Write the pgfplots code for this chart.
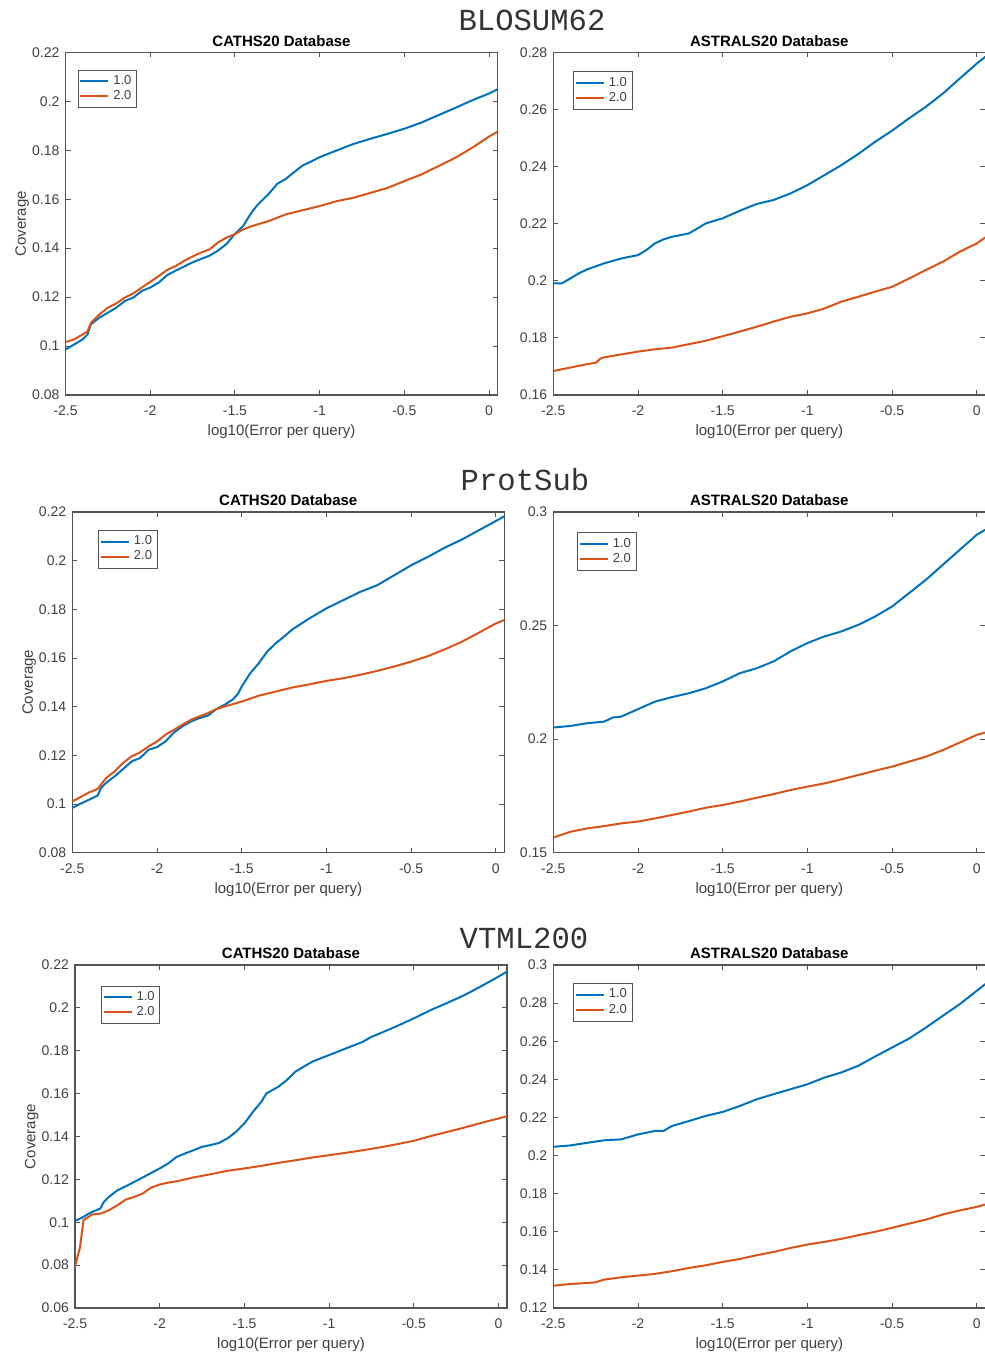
\documentclass[border=0pt]{standalone}
\usepackage{fontspec}
\setmainfont{Liberation Sans}
\newfontfamily\monofont{Liberation Mono}
\usepackage{pgfplots}
\pgfplotsset{compat=1.18}
\definecolor{mblue}{rgb}{0,0.447,0.741}
\definecolor{morange}{rgb}{0.85,0.325,0.098}
\definecolor{axgray}{rgb}{0.33,0.33,0.33}
\definecolor{txtgray}{rgb}{0.25,0.25,0.25}
\pgfplotsset{
  mat/.style={
    scale only axis, width=216pt, height=171pt, anchor=south west,
    xmin=-2.5, xmax=0.05,
    xtick={-2.5,-2,-1.5,-1,-0.5,0},
    scaled y ticks=false, scaled x ticks=false,
    axis line style={draw=axgray, line width=0.6pt},
    tick style={draw=axgray, line width=0.5pt},
    major tick length=2.5pt,
    tick align=inside,
    ticklabel style={font=\fontsize{7}{8}\selectfont, text=txtgray},
    xticklabel style={yshift=-2pt},
    yticklabel style={xshift=0.5pt},
    /pgf/number format/assume math mode=true,
    /pgf/number format/fixed, /pgf/number format/precision=2,
    label style={font=\fontsize{7.5}{9}\selectfont, text=txtgray},
    xlabel={log10(Error per query)},
    xlabel style={at={(axis description cs:0.5,-0.107)}, anchor=center},
    ylabel style={at={(axis description cs:-0.1,0.5)}, anchor=center},
    title style={at={(axis description cs:0.5,1)}, anchor=base, yshift=-3pt, font=\bfseries\fontsize{7.5}{9}\selectfont},
    legend style={draw=axgray, line width=0.5pt, font=\fontsize{6.5}{7}\selectfont, text=txtgray, anchor=north west, inner sep=0.6pt, row sep=-2.5pt},
    legend cell align=left,
    legend image code/.code={\draw[#1, line width=1pt] (0pt,0pt) -- (14pt,0pt);},
    every axis plot/.append style={line width=1pt, no markers},
  }
}
\begin{document}
\begin{tikzpicture}
\useasboundingbox (0,0) rectangle (492.5pt,677.5pt);
\node[font=\monofont\fontsize{15.3}{16}\selectfont, text=black!80] at (266pt,667.5pt) {BLOSUM62};
\node[font=\monofont\fontsize{15.3}{16}\selectfont, text=black!80] at (262.5pt,437.5pt) {ProtSub};
\node[font=\monofont\fontsize{15.3}{16}\selectfont, text=black!80] at (262pt,208.5pt) {VTML200};

% ---------- Row 1 left: BLOSUM62 CATHS20
\begin{axis}[mat, at={(32.75pt,480pt)}, height=171.3pt,
  ymin=0.08, ymax=0.22, ytick={0.08,0.1,0.12,0.14,0.16,0.18,0.2,0.22},
  title={CATHS20 Database}, ylabel={Coverage},
  legend style={at={(axis description cs:0.028,0.95)}}]
\addplot[mblue] coordinates {
(-2.5,0.0986)(-2.45,0.1006)(-2.4,0.1027)(-2.37,0.1047)(-2.35,0.1089)(-2.3,0.1116)(-2.25,0.1136)(-2.2,0.1157)(-2.15,0.1184)(-2.1,0.1198)(-2.05,0.1225)(-2.0,0.1239)(-1.95,0.1259)(-1.9,0.129)(-1.85,0.1308)(-1.8,0.1325)(-1.75,0.1342)(-1.7,0.1356)(-1.65,0.1369)(-1.6,0.139)(-1.55,0.1417)(-1.5,0.1458)(-1.45,0.1492)(-1.42,0.1526)(-1.4,0.1547)(-1.37,0.1574)(-1.35,0.1588)(-1.3,0.1622)(-1.25,0.1663)(-1.2,0.1683)(-1.15,0.1711)(-1.1,0.1738)(-1.05,0.1754)(-1.0,0.1772)(-0.9,0.1799)(-0.8,0.1826)(-0.7,0.1847)(-0.6,0.1867)(-0.5,0.1888)(-0.4,0.1913)(-0.3,0.1943)(-0.2,0.1973)(-0.1,0.2004)(0,0.2032)(0.05,0.2049)};
\addlegendentry{1.0}
\addplot[morange] coordinates {
(-2.5,0.1016)(-2.45,0.1027)(-2.4,0.1047)(-2.37,0.106)(-2.35,0.1095)(-2.3,0.1129)(-2.25,0.1157)(-2.2,0.1174)(-2.15,0.1198)(-2.1,0.1215)(-2.05,0.1239)(-2.0,0.1262)(-1.95,0.1286)(-1.9,0.1311)(-1.85,0.1327)(-1.8,0.1348)(-1.75,0.1366)(-1.7,0.1382)(-1.65,0.1395)(-1.6,0.1423)(-1.55,0.1443)(-1.5,0.1457)(-1.45,0.1477)(-1.4,0.149)(-1.3,0.1511)(-1.2,0.1538)(-1.1,0.1555)(-1.0,0.1572)(-0.9,0.1592)(-0.8,0.1606)(-0.7,0.1626)(-0.6,0.1646)(-0.5,0.1674)(-0.4,0.1701)(-0.3,0.1735)(-0.2,0.1769)(-0.1,0.181)(0,0.1856)(0.05,0.1876)};
\addlegendentry{2.0}
\end{axis}

% ---------- Row 1 right: BLOSUM62 ASTRALS20
\begin{axis}[mat, at={(276.65pt,480pt)}, height=171.3pt,
  ymin=0.16, ymax=0.28, ytick={0.16,0.18,0.2,0.22,0.24,0.26,0.28},
  title={ASTRALS20 Database},
  legend style={at={(axis description cs:0.046,0.945)}}]
\addplot[mblue] coordinates {
(-2.5,0.1991)(-2.45,0.1991)(-2.4,0.2008)(-2.35,0.2026)(-2.3,0.204)(-2.2,0.2061)(-2.1,0.2078)(-2.0,0.209)(-1.95,0.2108)(-1.9,0.2131)(-1.85,0.2145)(-1.8,0.2154)(-1.75,0.216)(-1.7,0.2166)(-1.65,0.2183)(-1.6,0.2201)(-1.5,0.2219)(-1.4,0.2245)(-1.3,0.2269)(-1.2,0.2283)(-1.1,0.2306)(-1.0,0.2335)(-0.9,0.237)(-0.8,0.2405)(-0.7,0.2444)(-0.6,0.2487)(-0.5,0.2526)(-0.4,0.2569)(-0.3,0.261)(-0.2,0.2656)(-0.1,0.2709)(0,0.2761)(0.05,0.2785)};
\addlegendentry{1.0}
\addplot[morange] coordinates {
(-2.5,0.1684)(-2.4,0.1696)(-2.3,0.1708)(-2.25,0.1713)(-2.22,0.1728)(-2.2,0.1732)(-2.1,0.1742)(-2.0,0.1752)(-1.9,0.176)(-1.8,0.1766)(-1.7,0.1778)(-1.6,0.179)(-1.5,0.1806)(-1.4,0.1822)(-1.3,0.1839)(-1.2,0.1857)(-1.1,0.1874)(-1.0,0.1886)(-0.9,0.1903)(-0.8,0.1927)(-0.7,0.1944)(-0.6,0.1962)(-0.5,0.1979)(-0.4,0.2008)(-0.3,0.2038)(-0.2,0.2067)(-0.1,0.2102)(0,0.2131)(0.05,0.2152)};
\addlegendentry{2.0}
\end{axis}

% ---------- Row 2 left: ProtSub CATHS20
\begin{axis}[mat, at={(36.15pt,251.15pt)}, height=170.35pt,
  ymin=0.08, ymax=0.22, ytick={0.08,0.1,0.12,0.14,0.16,0.18,0.2,0.22},
  title={CATHS20 Database}, ylabel={Coverage},
  legend style={at={(axis description cs:0.06,0.947)}}]
\addplot[mblue] coordinates {
(-2.5,0.0984)(-2.45,0.1002)(-2.4,0.1018)(-2.35,0.1035)(-2.33,0.1066)(-2.3,0.1087)(-2.25,0.1114)(-2.2,0.1144)(-2.15,0.1175)(-2.1,0.1189)(-2.05,0.1223)(-2.0,0.1234)(-1.95,0.1257)(-1.9,0.1294)(-1.85,0.1319)(-1.8,0.1339)(-1.75,0.1353)(-1.7,0.1363)(-1.65,0.139)(-1.6,0.1408)(-1.55,0.1431)(-1.52,0.1455)(-1.5,0.1483)(-1.45,0.1537)(-1.4,0.1578)(-1.35,0.1626)(-1.3,0.166)(-1.25,0.1688)(-1.2,0.1718)(-1.1,0.1763)(-1.0,0.1804)(-0.9,0.1838)(-0.8,0.1872)(-0.7,0.1899)(-0.6,0.194)(-0.5,0.1981)(-0.4,0.2016)(-0.3,0.2054)(-0.2,0.2087)(-0.1,0.2125)(0,0.2163)(0.05,0.2182)};
\addlegendentry{1.0}
\addplot[morange] coordinates {
(-2.5,0.1011)(-2.45,0.1029)(-2.4,0.1048)(-2.35,0.1062)(-2.3,0.1107)(-2.25,0.1134)(-2.2,0.1169)(-2.15,0.1196)(-2.1,0.1212)(-2.05,0.1237)(-2.0,0.1257)(-1.95,0.1285)(-1.9,0.1305)(-1.85,0.1326)(-1.8,0.1346)(-1.75,0.136)(-1.7,0.1373)(-1.65,0.139)(-1.6,0.1401)(-1.5,0.1421)(-1.4,0.1445)(-1.3,0.1462)(-1.2,0.1479)(-1.1,0.1492)(-1.0,0.1506)(-0.9,0.1517)(-0.8,0.1531)(-0.7,0.1547)(-0.6,0.1565)(-0.5,0.1585)(-0.4,0.1608)(-0.3,0.1636)(-0.2,0.1667)(-0.1,0.1704)(0,0.1742)(0.05,0.1756)};
\addlegendentry{2.0}
\end{axis}

% ---------- Row 2 right: ProtSub ASTRALS20
\begin{axis}[mat, at={(276.65pt,251.15pt)}, height=170.35pt,
  ymin=0.15, ymax=0.3, ytick={0.15,0.2,0.25,0.3},
  title={ASTRALS20 Database},
  legend style={at={(axis description cs:0.055,0.94)}}]
\addplot[mblue] coordinates {
(-2.5,0.2051)(-2.4,0.2058)(-2.3,0.207)(-2.2,0.2077)(-2.15,0.2095)(-2.1,0.2099)(-2.0,0.2132)(-1.9,0.2165)(-1.8,0.2185)(-1.7,0.2202)(-1.6,0.2224)(-1.5,0.2254)(-1.4,0.229)(-1.3,0.2312)(-1.2,0.2342)(-1.1,0.2386)(-1.0,0.2423)(-0.9,0.2452)(-0.8,0.2474)(-0.7,0.2503)(-0.6,0.254)(-0.5,0.2584)(-0.4,0.2643)(-0.3,0.2702)(-0.2,0.2768)(-0.1,0.2834)(0,0.29)(0.05,0.2922)};
\addlegendentry{1.0}
\addplot[morange] coordinates {
(-2.5,0.1567)(-2.4,0.1592)(-2.3,0.1607)(-2.2,0.1617)(-2.1,0.1629)(-2.0,0.1637)(-1.9,0.1651)(-1.8,0.1666)(-1.7,0.1681)(-1.6,0.1698)(-1.5,0.171)(-1.4,0.1725)(-1.3,0.1742)(-1.2,0.1758)(-1.1,0.1776)(-1.0,0.1791)(-0.9,0.1805)(-0.8,0.1823)(-0.7,0.1842)(-0.6,0.1861)(-0.5,0.1879)(-0.4,0.1901)(-0.3,0.1923)(-0.2,0.1952)(-0.1,0.1985)(0,0.2019)(0.05,0.2029)};
\addlegendentry{2.0}
\end{axis}

% ---------- Row 3 left: VTML200 CATHS20
\begin{axis}[mat, at={(37.5pt,23.5pt)}, height=171.5pt,
  ymin=0.06, ymax=0.22, ytick={0.06,0.08,0.1,0.12,0.14,0.16,0.18,0.2,0.22},
  title={CATHS20 Database}, ylabel={Coverage},
  legend style={at={(axis description cs:0.06,0.94)}}]
\addplot[mblue] coordinates {
(-2.5,0.1006)(-2.45,0.1025)(-2.42,0.104)(-2.4,0.1048)(-2.35,0.1064)(-2.33,0.1095)(-2.3,0.1118)(-2.25,0.1149)(-2.2,0.1168)(-2.15,0.1188)(-2.1,0.1209)(-2.05,0.123)(-2.0,0.1251)(-1.95,0.1274)(-1.9,0.1305)(-1.85,0.1321)(-1.8,0.1336)(-1.75,0.1352)(-1.7,0.136)(-1.65,0.137)(-1.6,0.1391)(-1.55,0.1422)(-1.5,0.1461)(-1.45,0.1515)(-1.4,0.1562)(-1.37,0.1601)(-1.3,0.1632)(-1.25,0.1663)(-1.2,0.1702)(-1.1,0.1749)(-1.0,0.178)(-0.9,0.1811)(-0.8,0.1842)(-0.75,0.1865)(-0.7,0.1881)(-0.6,0.1915)(-0.5,0.1951)(-0.4,0.199)(-0.3,0.2024)(-0.2,0.206)(-0.1,0.2102)(0,0.2146)(0.05,0.2169)};
\addlegendentry{1.0}
\addplot[morange] coordinates {
(-2.5,0.0792)(-2.47,0.0885)(-2.45,0.101)(-2.42,0.1025)(-2.4,0.1036)(-2.35,0.104)(-2.3,0.1056)(-2.25,0.1079)(-2.2,0.1106)(-2.15,0.1118)(-2.1,0.1134)(-2.05,0.1162)(-2.0,0.1176)(-1.95,0.1185)(-1.9,0.1191)(-1.8,0.1209)(-1.7,0.1224)(-1.6,0.124)(-1.5,0.1251)(-1.4,0.1263)(-1.3,0.1277)(-1.2,0.1289)(-1.1,0.1302)(-1.0,0.1313)(-0.9,0.1324)(-0.8,0.1336)(-0.7,0.1349)(-0.6,0.1364)(-0.5,0.138)(-0.4,0.1402)(-0.3,0.1422)(-0.2,0.1442)(-0.1,0.1464)(0,0.1484)(0.05,0.1495)};
\addlegendentry{2.0}
\end{axis}

% ---------- Row 3 right: VTML200 ASTRALS20
\begin{axis}[mat, at={(276.65pt,23.5pt)}, height=171.5pt,
  ymin=0.12, ymax=0.3, ytick={0.12,0.14,0.16,0.18,0.2,0.22,0.24,0.26,0.28,0.3},
  title={ASTRALS20 Database},
  legend style={at={(axis description cs:0.046,0.947)}}]
\addplot[mblue] coordinates {
(-2.5,0.2046)(-2.4,0.2053)(-2.3,0.2067)(-2.2,0.208)(-2.1,0.2085)(-2.0,0.2111)(-1.9,0.2129)(-1.85,0.2129)(-1.8,0.2155)(-1.7,0.2181)(-1.6,0.2208)(-1.5,0.2229)(-1.4,0.226)(-1.3,0.2295)(-1.2,0.2322)(-1.1,0.2348)(-1.0,0.2374)(-0.9,0.2409)(-0.8,0.2436)(-0.7,0.2471)(-0.6,0.252)(-0.5,0.2567)(-0.4,0.2614)(-0.3,0.2672)(-0.2,0.2734)(-0.1,0.2795)(0,0.2865)(0.05,0.29)};
\addlegendentry{1.0}
\addplot[morange] coordinates {
(-2.5,0.1317)(-2.4,0.1326)(-2.3,0.1331)(-2.25,0.1335)(-2.2,0.1349)(-2.1,0.1361)(-2.0,0.137)(-1.9,0.1379)(-1.8,0.1393)(-1.7,0.141)(-1.6,0.1424)(-1.5,0.1442)(-1.4,0.1457)(-1.3,0.1477)(-1.2,0.1494)(-1.1,0.1515)(-1.0,0.1533)(-0.9,0.1547)(-0.8,0.1563)(-0.7,0.1582)(-0.6,0.16)(-0.5,0.1621)(-0.4,0.1643)(-0.3,0.1664)(-0.2,0.1691)(-0.1,0.1712)(0,0.1731)(0.05,0.1743)};
\addlegendentry{2.0}
\end{axis}
\end{tikzpicture}
\end{document}
